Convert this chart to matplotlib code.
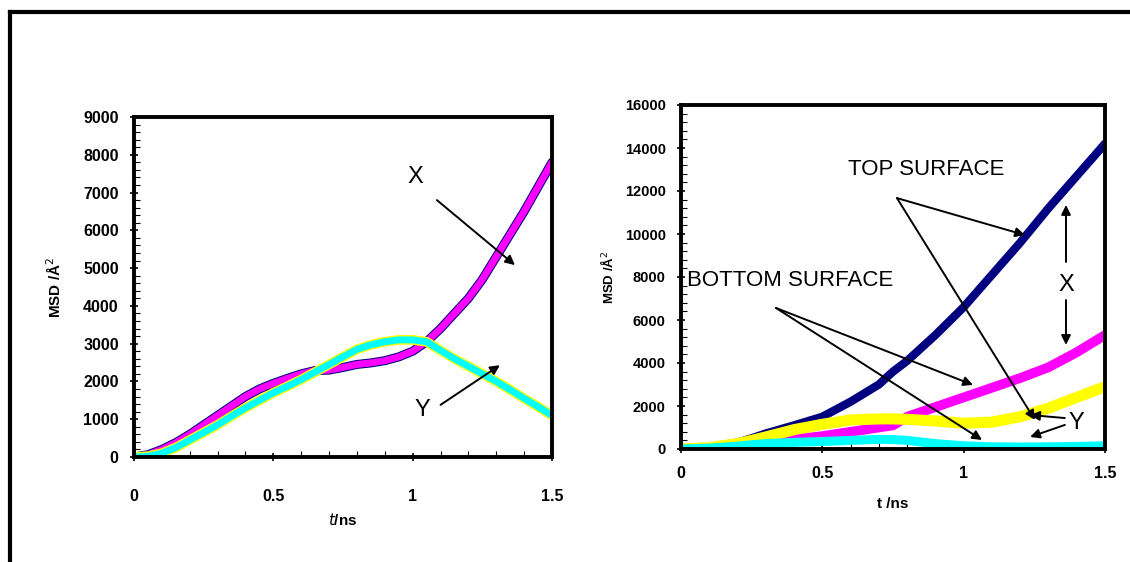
"""
MSD vs time, two panels (bulk X/Y and top/bottom surface X/Y)
"""

import matplotlib
matplotlib.use("Agg")
import matplotlib.pyplot as plt
from matplotlib.lines import Line2D
from matplotlib.ticker import FormatStrFormatter, MultipleLocator

plt.rcParams["font.family"] = ["Liberation Sans", "DejaVu Sans"]

# ---------------------------------------------------------------------
# Data
# ---------------------------------------------------------------------

T_LEFT = [0.0, 0.05, 0.1, 0.15, 0.2, 0.25, 0.3, 0.35, 0.4, 0.45, 0.5, 0.55, 0.6,
          0.65, 0.7, 0.75, 0.8, 0.85, 0.9, 0.95, 1.0, 1.05, 1.1, 1.15, 1.2,
          1.25, 1.3, 1.35, 1.4, 1.45, 1.5]
MSD_X_LEFT = [0, 60, 200, 380, 600, 850, 1100, 1350, 1600, 1800, 1950, 2080, 2200,
              2290, 2300, 2370, 2450, 2490, 2550, 2650, 2800, 3050, 3400, 3800, 4200,
              4700, 5300, 5900, 6500, 7150, 7800]
MSD_Y_LEFT = [0, 20, 100, 250, 450, 650, 850, 1080, 1300, 1500, 1700, 1870, 2050,
              2250, 2450, 2650, 2850, 2970, 3050, 3100, 3100, 3050, 2820, 2600, 2400,
              2200, 2000, 1780, 1550, 1330, 1100]

T_RIGHT = [0.0, 0.1, 0.2, 0.25, 0.3, 0.4, 0.5, 0.6, 0.7, 0.75, 0.8, 0.9, 1.0,
           1.1, 1.2, 1.3, 1.4, 1.5]
MSD_X_TOP = [0, 80, 300, 500, 720, 1100, 1500, 2200, 3000, 3600, 4100, 5300, 6600,
             8100, 9600, 11200, 12700, 14200]
MSD_X_BOTTOM = [0, 60, 160, 250, 330, 450, 600, 800, 1000, 1100, 1500, 1950, 2400,
                2850, 3300, 3800, 4500, 5300]
MSD_Y_TOP = [0, 60, 250, 400, 560, 900, 1150, 1350, 1400, 1400, 1380, 1300, 1200,
             1250, 1500, 1900, 2400, 2900]
MSD_Y_BOTTOM = [0, 40, 130, 200, 250, 310, 350, 400, 450, 440, 400, 250, 150,
                100, 90, 100, 120, 150]

NAVY = "#000080"
MAGENTA = "#ff00ff"
YELLOW = "#ffff00"
CYAN = "#00ffff"


def style_axes(ax, ymax, ymajor, yminor, ysize, xsize, xpad):
    ax.set_xlim(0, 1.5)
    ax.set_ylim(0, ymax)
    ax.xaxis.set_major_locator(MultipleLocator(0.5))
    ax.xaxis.set_minor_locator(MultipleLocator(0.1))
    ax.xaxis.set_major_formatter(FormatStrFormatter("%g"))
    ax.yaxis.set_major_locator(MultipleLocator(ymajor))
    ax.yaxis.set_minor_locator(MultipleLocator(yminor))
    ax.tick_params(axis="both", which="major", direction="inout", length=6, width=1.2)
    ax.tick_params(axis="x", which="major", pad=xpad, labelsize=xsize)
    ax.tick_params(axis="y", which="major", pad=8, labelsize=ysize)
    ax.tick_params(axis="both", which="minor", direction="in", length=4, width=0.8)
    for lab in ax.get_xticklabels() + ax.get_yticklabels():
        lab.set_fontweight("bold")
    for sp in ax.spines.values():
        sp.set_linewidth(2.8)


def arrow(ax, start, end):
    ax.annotate("", xy=end, xytext=start,
                arrowprops=dict(arrowstyle="-|>", color="black", lw=1.4,
                                mutation_scale=14, shrinkA=0, shrinkB=0))


def main():
    fig = plt.figure(figsize=(11.3, 5.62), dpi=100)

    # outer frame (left and top edges visible)
    fig.add_artist(Line2D([10 / 1130, 10 / 1130], [0, 1 - 12 / 562],
                          transform=fig.transFigure, color="black", lw=3))
    fig.add_artist(Line2D([10 / 1130, 1], [1 - 12 / 562, 1 - 12 / 562],
                          transform=fig.transFigure, color="black", lw=3))

    # ---------------- left panel ----------------
    ax1 = fig.add_axes([134 / 1130, 1 - 457 / 562, 418 / 1130, 340 / 562])
    ax1.plot(T_LEFT, MSD_X_LEFT, color=NAVY, lw=6.5, solid_capstyle="round")
    ax1.plot(T_LEFT, MSD_X_LEFT, color=MAGENTA, lw=5, solid_capstyle="round")
    ax1.plot(T_LEFT, MSD_Y_LEFT, color=YELLOW, lw=7, solid_capstyle="round")
    ax1.plot(T_LEFT, MSD_Y_LEFT, color=CYAN, lw=5, solid_capstyle="round")
    style_axes(ax1, 9000, 1000, 200, 11.5, 11.5, 20)
    ax1.set_ylabel("MSD /Å$^2$", fontsize=11, fontweight="bold", labelpad=14)
    ax1.set_xlabel("$\\mathbf{\\it{t}}$/ns", fontsize=11, fontweight="bold", labelpad=6)

    ax1.text(1.01, 7400, "X", fontsize=17, ha="center", va="center")
    arrow(ax1, (1.087, 6800), (1.367, 5080))
    ax1.text(1.035, 1250, "Y", fontsize=17, ha="center", va="center")
    arrow(ax1, (1.10, 1380), (1.313, 2430))

    # ---------------- right panel ----------------
    ax2 = fig.add_axes([681 / 1130, 1 - 449 / 562, 424 / 1130, 344 / 562])
    ax2.plot(T_RIGHT, MSD_X_BOTTOM, color=MAGENTA, lw=7, solid_capstyle="round")
    ax2.plot(T_RIGHT, MSD_X_TOP, color=NAVY, lw=6, solid_capstyle="round")
    ax2.plot(T_RIGHT, MSD_Y_TOP, color=YELLOW, lw=8, solid_capstyle="round")
    ax2.plot(T_RIGHT, MSD_Y_BOTTOM, color=CYAN, lw=6.5, solid_capstyle="round")
    style_axes(ax2, 16000, 2000, 400, 10.5, 11.5, 9)
    ax2.set_ylabel("MSD /Å$^2$", fontsize=9.5, fontweight="bold", labelpad=6)
    ax2.set_xlabel("t /ns", fontsize=11, fontweight="bold", labelpad=12)

    ax2.text(0.59, 12980, "TOP SURFACE", fontsize=16, ha="left", va="center")
    arrow(ax2, (0.764, 11670), (1.217, 9950))
    arrow(ax2, (0.764, 11670), (1.252, 1350))

    ax2.text(0.02, 7860, "BOTTOM SURFACE", fontsize=16, ha="left", va="center")
    arrow(ax2, (0.336, 6560), (1.033, 2980))
    arrow(ax2, (0.336, 6560), (1.065, 420))

    ax2.text(1.362, 7630, "X", fontsize=17, ha="center", va="center")
    arrow(ax2, (1.362, 8700), (1.362, 11350))
    arrow(ax2, (1.362, 6930), (1.362, 4840))

    ax2.text(1.40, 1210, "Y", fontsize=17, ha="center", va="center")
    arrow(ax2, (1.358, 1440), (1.235, 1580))
    arrow(ax2, (1.358, 1120), (1.235, 560))

    fig.savefig("out.png", dpi=100)


if __name__ == "__main__":
    main()
